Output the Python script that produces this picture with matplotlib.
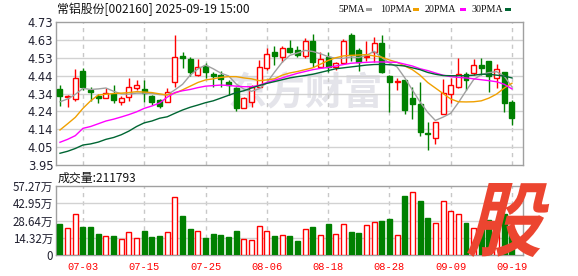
import matplotlib
matplotlib.use('Agg')
import matplotlib.pyplot as plt
import numpy as np
from matplotlib.textpath import TextPath
from matplotlib.patches import PathPatch, Rectangle
from matplotlib.font_manager import FontProperties
from matplotlib.transforms import Affine2D

plt.rcParams['font.family'] = ['Noto Sans CJK SC', 'DejaVu Sans']

# daily candles 06-30 .. 09-19
opens = [4.364, 4.320, 4.310, 4.463, 4.357, 4.328, 4.317, 4.335, 4.295, 4.319,
         4.368, 4.363, 4.328, 4.305, 4.295, 4.404, 4.543, 4.528, 4.441, 4.492,
         4.445, 4.441, 4.404, 4.368, 4.259, 4.295, 4.377, 4.477, 4.565, 4.537,
         4.586, 4.577, 4.546, 4.626, 4.486, 4.541, 4.486, 4.505, 4.659, 4.577,
         4.540, 4.568, 4.614, 4.435, 4.401, 4.414, 4.317, 4.283, 4.123, 4.095,
         4.226, 4.335, 4.377, 4.445, 4.450, 4.495, 4.517, 4.426, 4.455, 4.292]
highs = [4.386, 4.330, 4.474, 4.477, 4.375, 4.337, 4.370, 4.386, 4.328, 4.426,
         4.413, 4.413, 4.332, 4.310, 4.372, 4.659, 4.565, 4.541, 4.528, 4.505,
         4.455, 4.465, 4.414, 4.377, 4.323, 4.386, 4.523, 4.590, 4.599, 4.601,
         4.632, 4.601, 4.641, 4.663, 4.565, 4.568, 4.514, 4.637, 4.668, 4.586,
         4.626, 4.650, 4.659, 4.441, 4.423, 4.414, 4.374, 4.405, 4.186, 4.183,
         4.417, 4.423, 4.532, 4.459, 4.528, 4.532, 4.517, 4.499, 4.459, 4.305]
lows = [4.274, 4.265, 4.300, 4.359, 4.300, 4.288, 4.314, 4.286, 4.277, 4.301,
        4.359, 4.295, 4.277, 4.259, 4.292, 4.377, 4.477, 4.437, 4.437, 4.426,
        4.377, 4.377, 4.332, 4.246, 4.259, 4.268, 4.368, 4.468, 4.495, 4.514,
        4.559, 4.541, 4.535, 4.486, 4.481, 4.459, 4.468, 4.499, 4.517, 4.463,
        4.517, 4.514, 4.450, 4.237, 4.359, 4.226, 4.201, 4.110, 4.032, 4.063,
        4.226, 4.286, 4.368, 4.359, 4.441, 4.441, 4.350, 4.368, 4.237, 4.168]
closes = [4.328, 4.325, 4.423, 4.375, 4.350, 4.318, 4.341, 4.306, 4.313, 4.375,
          4.386, 4.343, 4.292, 4.274, 4.350, 4.541, 4.535, 4.459, 4.483, 4.459,
          4.437, 4.417, 4.386, 4.263, 4.317, 4.377, 4.486, 4.554, 4.546, 4.586,
          4.568, 4.550, 4.626, 4.514, 4.528, 4.486, 4.505, 4.626, 4.550, 4.514,
          4.545, 4.614, 4.459, 4.401, 4.404, 4.250, 4.283, 4.132, 4.117, 4.183,
          4.341, 4.386, 4.445, 4.414, 4.495, 4.477, 4.437, 4.474, 4.286, 4.205]

ma5 = [4.295, 4.310, 4.335, 4.368, 4.362, 4.365, 4.370, 4.352, 4.338, 4.336,
       4.342, 4.342, 4.340, 4.334, 4.332, 4.360, 4.390, 4.440, 4.474, 4.495,
       4.475, 4.451, 4.436, 4.392, 4.364, 4.352, 4.366, 4.399, 4.456, 4.510,
       4.548, 4.561, 4.575, 4.569, 4.557, 4.541, 4.532, 4.532, 4.539, 4.536,
       4.548, 4.570, 4.536, 4.507, 4.485, 4.426, 4.359, 4.294, 4.237, 4.193,
       4.211, 4.232, 4.290, 4.354, 4.416, 4.443, 4.454, 4.459, 4.434, 4.376]
ma10 = [4.141, 4.175, 4.210, 4.259, 4.300, 4.332, 4.336, 4.340, 4.342, 4.345,
        4.350, 4.348, 4.345, 4.338, 4.332, 4.342, 4.360, 4.380, 4.400, 4.414,
        4.420, 4.428, 4.432, 4.432, 4.425, 4.420, 4.410, 4.414, 4.420, 4.440,
        4.452, 4.460, 4.470, 4.480, 4.500, 4.520, 4.535, 4.545, 4.548, 4.550,
        4.552, 4.545, 4.538, 4.523, 4.510, 4.490, 4.470, 4.440, 4.400, 4.370,
        4.340, 4.310, 4.295, 4.294, 4.295, 4.300, 4.315, 4.337, 4.370, 4.396]
ma20 = [4.074, 4.090, 4.110, 4.150, 4.160, 4.175, 4.190, 4.200, 4.212, 4.225,
        4.240, 4.259, 4.272, 4.288, 4.320, 4.345, 4.355, 4.362, 4.372, 4.380,
        4.383, 4.386, 4.384, 4.380, 4.377, 4.377, 4.385, 4.400, 4.412, 4.425,
        4.438, 4.450, 4.460, 4.470, 4.477, 4.482, 4.490, 4.498, 4.505, 4.508,
        4.510, 4.512, 4.512, 4.511, 4.510, 4.500, 4.490, 4.475, 4.465, 4.452,
        4.440, 4.432, 4.428, 4.425, 4.420, 4.415, 4.410, 4.404, 4.390, 4.365]
ma30 = [4.014, 4.025, 4.040, 4.059, 4.065, 4.075, 4.090, 4.100, 4.115, 4.135,
        4.160, 4.180, 4.190, 4.205, 4.213, 4.232, 4.250, 4.265, 4.277, 4.290,
        4.300, 4.315, 4.330, 4.345, 4.355, 4.370, 4.383, 4.395, 4.405, 4.415,
        4.425, 4.432, 4.438, 4.445, 4.455, 4.465, 4.475, 4.480, 4.485, 4.490,
        4.495, 4.498, 4.499, 4.497, 4.494, 4.490, 4.480, 4.470, 4.455, 4.445,
        4.438, 4.437, 4.437, 4.437, 4.440, 4.445, 4.445, 4.440, 4.435, 4.425]

# volume in 万
volume = [25.5, 22.7, 33.8, 23.0, 23.0, 17.2, 16.0, 15.5, 13.6, 18.8,
          14.4, 19.6, 14.7, 15.5, 19.4, 48.4, 32.1, 21.3, 20.2, 13.8,
          17.2, 16.3, 14.7, 19.6, 13.6, 12.7, 24.3, 20.2, 15.5, 16.9,
          15.5, 11.6, 21.9, 23.0, 16.3, 25.5, 17.2, 25.5, 19.1, 18.3,
          24.6, 27.1, 27.9, 29.6, 16.3, 48.7, 52.6, 44.5, 30.4, 26.3,
          45.1, 36.8, 33.8, 26.6, 22.0, 25.0, 28.8, 24.0, 34.3, 21.18]
vol_dir = "grrgggrgrr" "rgggrrggrg" "ggggrrrrgr" "ggrgrgrrgg" "rrggrgrggr" "rrrgrggrgg"

price_ticks = ['3.95', '4.05', '4.14', '4.24', '4.34', '4.44', '4.53', '4.63', '4.73']
vol_ticks = ['0', '14.32万', '28.64万', '42.95万', '57.27万']
date_pos = [3, 11, 19, 27, 35, 43, 51, 59]
date_labels = ['07-03', '07-15', '07-25', '08-06', '08-18', '08-28', '09-09', '09-19']

RED = '#ff0000'
GREEN = '#008000'
GRID = '#d2d2d2'
EDGE = '#a0a0a0'
TXT = '#202030'

W, H = 578, 276
fig = plt.figure(figsize=(W / 100, H / 100), dpi=100)

def fx(px):
    return px / W

def fy(py):
    return 1 - py / H

ax = fig.add_axes([fx(56), fy(165), (523 - 56) / W, (165 - 22) / H])
axv = fig.add_axes([fx(56), fy(255), (523 - 56) / W, (255 - 186) / H])

x = np.arange(len(closes))
o = np.array(opens); c = np.array(closes)
up = c >= o
bw = 0.65

# watermark
ax.text(0.535, 0.5, '东方财富', transform=ax.transAxes, ha='center', va='center',
        fontsize=28, fontweight='bold', color='#e4e4ea', zorder=0)

ax.vlines(x, lows, highs, colors=np.where(up, RED, GREEN), lw=1, zorder=3)
body = np.maximum(np.abs(c - o), 0.005)
ax.bar(x, body, bw, bottom=np.minimum(o, c), color=np.where(up, 'white', GREEN),
       edgecolor=np.where(up, RED, GREEN), lw=1, zorder=4)

ax.plot(x, ma5, color='#a0a0a0', lw=1, zorder=5)
ax.plot(x, ma10, color='#f0a000', lw=1, zorder=5)
ax.plot(x, ma20, color='#ff00ff', lw=1, zorder=5)
ax.plot(x, ma30, color='#006633', lw=1, zorder=5)

vred = np.array([d == 'r' for d in vol_dir])
axv.bar(x, volume, bw, color=np.where(vred, 'white', GREEN),
        edgecolor=np.where(vred, RED, GREEN), lw=1, zorder=4)

xl = (-0.52, 60.44)
for a in (ax, axv):
    a.set_xlim(*xl)
    for s in a.spines.values():
        s.set_color(EDGE)
        s.set_linewidth(1)
    for p in date_pos:
        a.axvline(p, color='#c8c8c8', lw=1, ls=(0, (3, 3)), zorder=1)
    a.tick_params(length=0, labelsize=8.3, colors=TXT, pad=2)

pt = np.linspace(3.95, 4.73, 9)
ax.set_ylim(3.95, 4.73)
ax.set_yticks(pt)
ax.set_yticklabels(price_ticks, family='DejaVu Sans')
ax.set_xticks([])
for v in pt[1:-1]:
    ax.axhline(v, color=GRID, lw=1, zorder=1)

vt = np.linspace(0, 57.27, 5)
axv.set_ylim(0, 57.27)
axv.set_yticks(vt)
axv.set_yticklabels(vol_ticks)
for v in vt[1:-1]:
    axv.axhline(v, color=GRID, lw=1, zorder=1)
axv.set_xticks(date_pos)
axv.set_xticklabels(date_labels, family='Liberation Mono', color=RED, fontsize=7.5)
axv.tick_params(axis='x', pad=5)

fig.text(fx(57), fy(9), '常铝股份[002160] 2025-09-19 15:00', fontsize=8.6,
         va='center', ha='left', color='#111111')
fig.text(fx(58), fy(178), '成交量:211793', fontsize=8.6, va='center', ha='left',
         color='#111111')

legend = [('5PMA', 338, 366, '#a0a0a0'), ('10PMA', 380, 413, '#f0a000'),
          ('20PMA', 425, 460, '#ff00ff'), ('30PMA', 472, 505, '#006633')]
for name, px, sq, col in legend:
    fig.text(fx(px), fy(9), name, fontsize=7.2, family='Liberation Serif',
             va='center', ha='left', color='#111111')
    fig.add_artist(Rectangle((fx(sq), fy(11)), 6 / W, 3 / H, transform=fig.transFigure,
                             color=col, lw=0))

# 股 logo, slanted
fp = FontProperties(family='Noto Sans CJK SC', weight='heavy')
tp = TextPath((0, 0), '股', size=1, prop=fp)
bb = tp.get_extents()
tr = (Affine2D().translate(-bb.x0, -bb.y0).scale(72 / bb.width, 74 / bb.height)
      .skew_deg(14, 0).translate(466, H - 257).scale(1 / 100))
fig.add_artist(PathPatch(tp, transform=tr + fig.dpi_scale_trans, color='#ec4530',
                         lw=0, zorder=10))

fig.savefig('out.png', dpi=100)
